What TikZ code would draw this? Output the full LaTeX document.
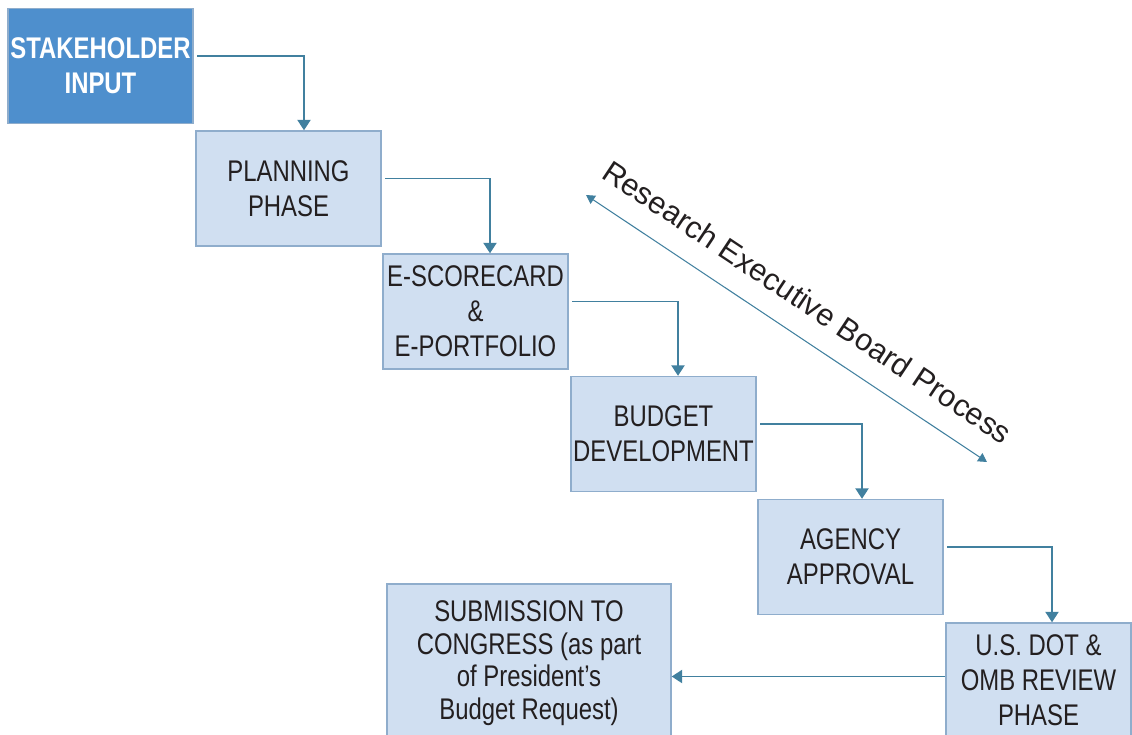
\documentclass[tikz,border=0pt]{standalone}
\usepackage{fontspec}
\setmainfont[FakeStretch=0.8]{Liberation Sans}
\newfontfamily\rebfont{Liberation Sans}
\usetikzlibrary{arrows.meta,calc}
\definecolor{rbDeep} {HTML}{4E8FCD}
\definecolor{rbEdge} {HTML}{8FADCC}
\definecolor{rbPale} {HTML}{D0DFF1}
\definecolor{rbFlow} {HTML}{41809F}
\definecolor{rbInk}  {HTML}{231F20}

\begin{document}
\begin{tikzpicture}[x=0.02cm,y=-0.02cm,
      stagebox/.style={draw=rbEdge,fill=rbPale,line width=0.8pt,align=center,
                       minimum width=3.7cm,minimum height=2.3cm,text=rbInk,
                       inner xsep=0pt,font=\fontsize{17}{20}\selectfont},
      flow/.style={-{Triangle[length=6pt,width=7.5pt]},rbFlow,line width=1.1pt}]
    \useasboundingbox (0,0) rectangle (1132,734);

    % the stages, one step down and to the right each time
    \node[stagebox,draw=rbEdge,fill=rbDeep,text=white,font=\fontsize{17}{20}\selectfont\bfseries]
          (stake) at (100.5,66) {STAKEHOLDER\\INPUT};
    \node[stagebox] (plan)   at (288.5,188.5) {PLANNING\\PHASE};
    \node[stagebox] (score)  at (475.5,311.5) {E-SCORECARD\\\&\\E-PORTFOLIO};
    \node[stagebox] (budget) at (663.5,434)   {BUDGET\\DEVELOPMENT};
    \node[stagebox] (agency) at (850.5,557)   {AGENCY\\APPROVAL};
    \node[stagebox] (review) at (1038.5,680.5) {U.S. DOT \&\\OMB REVIEW\\PHASE};
    \node[stagebox,minimum width=5.68cm,minimum height=3.16cm,
          font=\fontsize{17}{18.6}\selectfont] (submit) at (529,663)
          {SUBMISSION TO\\CONGRESS (as part\\of President’s\\Budget Request)};

    % elbow connectors
    \foreach \a/\b/\dx in {stake/plan/15.5,plan/score/14.5,score/budget/14.5,
                           budget/agency/11.5,agency/review/13.5}
      \draw[flow,shorten <=2pt] ([yshift=0.2cm]\a.east) -| ([xshift=\dx*0.02cm]\b.north);
    \draw[flow] ([yshift=0.08cm]review.west) -- ([yshift=0.08cm]review.west -| submit.east);

    % the board process spans the middle stages
    \coordinate (reb1) at (586,195);
    \coordinate (reb2) at (987,462);
    \draw[{Triangle[length=5pt,width=5.5pt]}-{Triangle[length=5pt,width=5.5pt]},rbFlow,line width=0.6pt]
      (reb1) -- (reb2) node[pos=0.506,sloped,above=0.44cm,inner sep=0pt,text=rbInk,
                            font=\rebfont\fontsize{17.5}{20}\selectfont] {Research Executive Board Process};
\end{tikzpicture}
\end{document}
